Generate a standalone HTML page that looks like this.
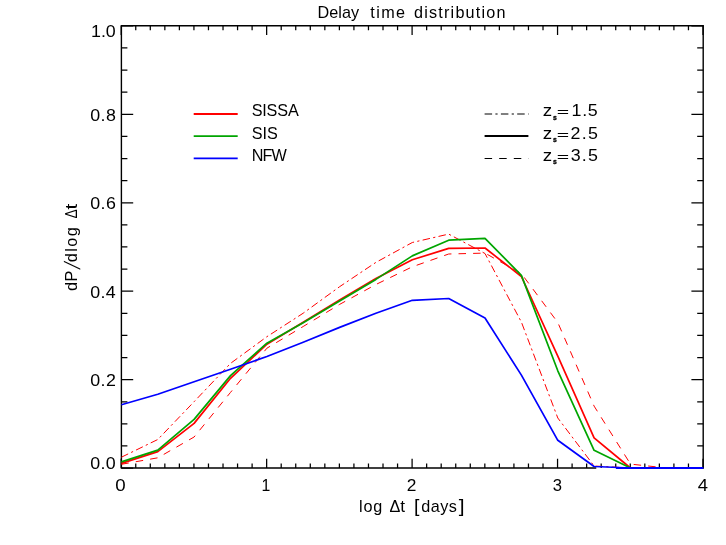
<!DOCTYPE html>
<html><head><meta charset="utf-8"><title>Delay time distribution</title>
<style>
html,body{margin:0;padding:0;background:#fff;}
body{width:726px;height:545px;overflow:hidden;font-family:"Liberation Sans",sans-serif;}
svg{display:block;will-change:transform;}
text{font-family:"Liberation Sans",sans-serif;fill:#000;white-space:pre;}
</style></head><body>
<svg width="726" height="545" viewBox="0 0 726 545">
<rect x="0" y="0" width="726" height="545" fill="#fff"/>

<g stroke="#000" fill="none">
<path d="M595.57,468.00H121.40V25.75H703.20V468.00" stroke-width="1.4" stroke-linecap="square" stroke-linejoin="miter"/>
<path d="M121.20,468.0v-9.2M121.20,25.8v9.2M135.75,468.0v-4.4M135.75,25.8v4.4M150.29,468.0v-4.4M150.29,25.8v4.4M164.84,468.0v-4.4M164.84,25.8v4.4M179.38,468.0v-4.4M179.38,25.8v4.4M193.93,468.0v-4.4M193.93,25.8v4.4M208.47,468.0v-4.4M208.47,25.8v4.4M223.02,468.0v-4.4M223.02,25.8v4.4M237.56,468.0v-4.4M237.56,25.8v4.4M252.11,468.0v-4.4M252.11,25.8v4.4M266.65,468.0v-9.2M266.65,25.8v9.2M281.20,468.0v-4.4M281.20,25.8v4.4M295.74,468.0v-4.4M295.74,25.8v4.4M310.29,468.0v-4.4M310.29,25.8v4.4M324.83,468.0v-4.4M324.83,25.8v4.4M339.38,468.0v-4.4M339.38,25.8v4.4M353.92,468.0v-4.4M353.92,25.8v4.4M368.47,468.0v-4.4M368.47,25.8v4.4M383.01,468.0v-4.4M383.01,25.8v4.4M397.56,468.0v-4.4M397.56,25.8v4.4M412.10,468.0v-9.2M412.10,25.8v9.2M426.65,468.0v-4.4M426.65,25.8v4.4M441.19,468.0v-4.4M441.19,25.8v4.4M455.74,468.0v-4.4M455.74,25.8v4.4M470.28,468.0v-4.4M470.28,25.8v4.4M484.83,468.0v-4.4M484.83,25.8v4.4M499.37,468.0v-4.4M499.37,25.8v4.4M513.92,468.0v-4.4M513.92,25.8v4.4M528.46,468.0v-4.4M528.46,25.8v4.4M543.01,468.0v-4.4M543.01,25.8v4.4M557.55,468.0v-9.2M557.55,25.8v9.2M572.10,468.0v-4.4M572.10,25.8v4.4M586.64,468.0v-4.4M586.64,25.8v4.4M601.19,468.0v-4.4M601.19,25.8v4.4M615.73,468.0v-4.4M615.73,25.8v4.4M630.27,468.0v-4.4M630.27,25.8v4.4M644.82,468.0v-4.4M644.82,25.8v4.4M659.37,468.0v-4.4M659.37,25.8v4.4M673.91,468.0v-4.4M673.91,25.8v4.4M688.46,468.0v-4.4M688.46,25.8v4.4M703.00,468.0v-9.2M703.00,25.8v9.2M121.4,468.10h11.8M703.2,468.10h-11.8M121.4,445.99h6.0M703.2,445.99h-6.0M121.4,423.88h6.0M703.2,423.88h-6.0M121.4,401.76h6.0M703.2,401.76h-6.0M121.4,379.65h11.8M703.2,379.65h-11.8M121.4,357.54h6.0M703.2,357.54h-6.0M121.4,335.43h6.0M703.2,335.43h-6.0M121.4,313.31h6.0M703.2,313.31h-6.0M121.4,291.20h11.8M703.2,291.20h-11.8M121.4,269.09h6.0M703.2,269.09h-6.0M121.4,246.97h6.0M703.2,246.97h-6.0M121.4,224.86h6.0M703.2,224.86h-6.0M121.4,202.75h11.8M703.2,202.75h-11.8M121.4,180.64h6.0M703.2,180.64h-6.0M121.4,158.52h6.0M703.2,158.52h-6.0M121.4,136.41h6.0M703.2,136.41h-6.0M121.4,114.30h11.8M703.2,114.30h-11.8M121.4,92.19h6.0M703.2,92.19h-6.0M121.4,70.07h6.0M703.2,70.07h-6.0M121.4,47.96h6.0M703.2,47.96h-6.0M121.4,25.85h11.8M703.2,25.85h-11.8" stroke-width="1.25"/>
</g>
<g fill="none" stroke-linejoin="round" stroke-linecap="butt">
<polyline points="121.4,457.2 157.8,439.5 194.1,401.7 230.5,363.4 266.9,336.7 303.2,313.2 339.6,286.7 375.9,262.4 412.3,242.5 448.7,234.1 485.0,253.5 521.4,322.1 557.8,418.0 594.1,466.0 630.5,468.0" stroke="#ff0000" stroke-width="1.0" stroke-dasharray="7.5,3.3,2.2,3.3"/>
<polyline points="121.4,464.3 157.8,457.8 194.1,437.0 230.5,392.4 266.9,348.2 303.2,326.5 339.6,304.4 375.9,284.5 412.3,266.8 448.7,254.0 485.0,253.1 521.4,273.6 557.8,322.5 594.1,406.1 630.5,464.1 666.8,468.0" stroke="#ff0000" stroke-width="1.0" stroke-dasharray="7.5,7.1"/>
<polyline points="121.4,463.4 157.8,451.6 194.1,423.4 230.5,378.3 266.9,344.2 303.2,322.3 339.6,299.9 375.9,278.5 412.3,259.8 448.7,248.4 485.0,248.0 521.4,276.5 557.8,356.2 594.1,437.9 630.5,468.0" stroke="#ff0000" stroke-width="1.7"/>
<polyline points="121.4,461.9 157.8,450.1 194.1,419.4 230.5,375.6 266.9,343.2 303.2,322.7 339.6,301.1 375.9,279.4 412.3,255.9 448.7,240.2 485.0,238.3 521.4,275.4 557.8,370.8 594.1,450.3 630.5,468.0" stroke="#00a500" stroke-width="1.7"/>
<polyline points="121.4,404.8 157.8,394.3 194.1,381.8 230.5,369.2 266.9,356.5 303.2,342.2 339.6,327.4 375.9,313.2 412.3,300.3 448.7,298.5 485.0,318.0 521.4,375.1 557.8,440.3 594.1,466.5 630.5,468.0 666.8,468.0 703.2,468.0" stroke="#0000ff" stroke-width="1.7"/>
<line x1="615.9" y1="468.0" x2="703.2" y2="468.0" stroke="#0000ff" stroke-width="2"/>
</g>
<g>
<text transform="translate(115.25,491.40) scale(1.1867,1)" font-size="15.80">0</text>
<text transform="translate(261.51,491.40)" font-size="15.80">1</text>
<text transform="translate(406.83,491.40) scale(1.0989,1)" font-size="15.80">2</text>
<text transform="translate(552.63,491.40) scale(1.0526,1)" font-size="15.80">3</text>
<text transform="translate(697.63,491.40) scale(1.1656,1)" font-size="15.80">4</text>
<text transform="translate(90.14,468.70) scale(1.1300,1)" font-size="15.80" letter-spacing="0.342">0.0</text>
<text transform="translate(90.14,386.25) scale(1.1300,1)" font-size="15.80" letter-spacing="0.460">0.2</text>
<text transform="translate(90.14,297.80) scale(1.1300,1)" font-size="15.80" letter-spacing="0.302">0.4</text>
<text transform="translate(90.14,209.35) scale(1.1300,1)" font-size="15.80" letter-spacing="0.381">0.6</text>
<text transform="translate(90.14,120.90) scale(1.1300,1)" font-size="15.80" letter-spacing="0.381">0.8</text>
<text transform="translate(91.06,36.60) scale(1.1300,1)" font-size="15.80" letter-spacing="-0.068">1.0</text>
<text transform="translate(317.50,17.90)" font-size="16.20" letter-spacing="0.076">Delay</text>
<text transform="translate(370.36,17.90)" font-size="16.20" letter-spacing="1.385">time</text>
<text transform="translate(414.05,17.90)" font-size="16.20" letter-spacing="1.198">distribution</text>
<text transform="translate(358.95,511.50)" font-size="16.20" letter-spacing="0.890">log</text>
<text transform="translate(389.61,511.50) scale(1.0018,1)" font-size="16.20">Δ</text>
<text transform="translate(400.34,511.50) scale(1.0651,1)" font-size="16.20">t</text>
<text transform="translate(413.94,511.70) scale(1.0130,1)" font-size="19.25">[</text>
<text transform="translate(421.35,511.50)" font-size="16.20" letter-spacing="0.444">days</text>
<text transform="translate(458.69,511.70) scale(1.0909,1)" font-size="19.25">]</text>
<text transform="translate(77.00,300.00) rotate(-90) translate(8.95,0)" font-size="16.20" letter-spacing="0.494">dP</text>
<text transform="translate(79.60,300.00) rotate(-90) translate(30.30,0) skewX(-15.80) scale(0.7000,1)" font-size="22.30">/</text>
<text transform="translate(77.00,300.00) rotate(-90) translate(37.75,0)" font-size="16.20" letter-spacing="1.428">dlog</text>
<text transform="translate(77.00,300.00) rotate(-90) translate(81.39,0) scale(0.8500,1)" font-size="16.20">Δ</text>
<text transform="translate(77.00,300.00) rotate(-90) translate(90.49,0) scale(1.2830,1)" font-size="16.20">t</text>
<text transform="translate(251.67,116.40)" font-size="16.20" letter-spacing="-0.170">SISSA</text>
<text transform="translate(251.67,138.60)" font-size="16.20" letter-spacing="0.038">SIS</text>
<text transform="translate(251.70,160.70)" font-size="16.20" letter-spacing="-0.930">NFW</text>
<text transform="translate(542.65,116.40) scale(1.1593,1)" font-size="16.20">z</text>
<text transform="translate(553.06,119.60) scale(0.8814,1)" font-size="7.80" font-weight="bold" stroke="#000" stroke-width="0.35">s</text>
<text transform="translate(556.84,116.40) scale(1.6855,1)" font-size="12.60">=</text>
<text transform="translate(571.46,116.40) scale(1.1300,1)" font-size="15.80" letter-spacing="0.680">1.5</text>
<text transform="translate(542.65,138.60) scale(1.1593,1)" font-size="16.20">z</text>
<text transform="translate(553.06,141.80) scale(0.8814,1)" font-size="7.80" font-weight="bold" stroke="#000" stroke-width="0.35">s</text>
<text transform="translate(556.84,138.60) scale(1.6855,1)" font-size="12.60">=</text>
<text transform="translate(570.51,138.60) scale(1.1300,1)" font-size="15.80" letter-spacing="1.102">2.5</text>
<text transform="translate(542.65,160.70) scale(1.1593,1)" font-size="16.20">z</text>
<text transform="translate(553.06,163.90) scale(0.8814,1)" font-size="7.80" font-weight="bold" stroke="#000" stroke-width="0.35">s</text>
<text transform="translate(556.84,160.70) scale(1.6855,1)" font-size="12.60">=</text>
<text transform="translate(570.69,160.70) scale(1.1300,1)" font-size="15.80" letter-spacing="1.023">3.5</text>
</g>
<g fill="none">
<line x1="193.7" y1="114" x2="237.7" y2="114" stroke="#ff0000" stroke-width="1.9"/>
<line x1="193.7" y1="136.1" x2="237.7" y2="136.1" stroke="#00a500" stroke-width="1.9"/>
<line x1="193.7" y1="158.35" x2="237.7" y2="158.35" stroke="#0000ff" stroke-width="1.9"/>
<line x1="484.6" y1="114" x2="528.6" y2="114" stroke="#000" stroke-width="1" stroke-dasharray="7.5,3.3,2.2,3.3"/>
<line x1="484.6" y1="136.05" x2="528.4" y2="136.05" stroke="#000" stroke-width="2"/>
<line x1="484.6" y1="158.5" x2="528.6" y2="158.5" stroke="#000" stroke-width="1" stroke-dasharray="7.5,7.1"/>
</g>
</svg></body></html>
